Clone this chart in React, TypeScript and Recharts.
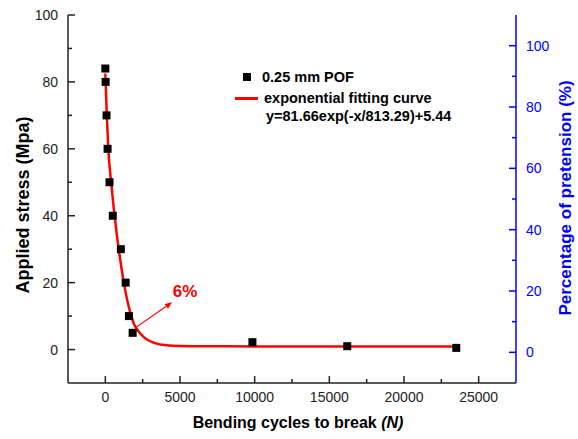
import {
  ComposedChart,
  Scatter,
  Line,
  XAxis,
  YAxis,
  ReferenceLine,
  Legend,
} from "recharts"

const FONT = '"Liberation Sans", Arial, sans-serif'

// measured samples (0.25 mm POF)
const cycles = [0, 20, 80, 150, 280, 500, 1040, 1360, 1580, 1830, 9850, 16200, 23500]
const stress = [84, 80, 70, 60, 50, 40, 30, 20, 10, 5, 2.2, 1, 0.5]

// fitted curve
const fitX = [0, 100, 200, 400, 630, 910, 1250, 1630, 1910, 2360, 3130, 4250, 5800, 8000, 12000, 16000, 20000, 23500]
const fitY = [82.5, 70, 60, 49.6, 39.6, 29.6, 19.7, 11.7, 7.7, 4.7, 2.2, 1.2, 1.0, 0.95, 0.9, 0.9, 0.9, 0.9]

const xTicks = [0, 2500, 5000, 7500, 10000, 12500, 15000, 17500, 20000, 22500, 25000]
const leftTicks = [0, 10, 20, 30, 40, 50, 60, 70, 80, 90, 100]
const rightTicks = [0, 10, 20, 30, 40, 50, 60, 70, 80, 90, 100]

const arrowFrom = { x: 2070, y: 6.7 }
const arrowTo = { x: 4470, y: 14.1 }

const points = cycles.map((x, i) => ({ x, y: stress[i] }))
const curve = fitX.map((x, i) => ({ x, y: fitY[i] }))

const BottomTick = (props: any) => {
  const { x, y, payload } = props
  const major = payload.value % 5000 === 0
  return (
    <g>
      <line x1={x} x2={x} y1={y} y2={y - (major ? 7 : 4)} stroke="#222" strokeWidth={1.5} />
      {major && (
        <text x={x} y={y + 19} textAnchor="middle" fontSize={14} fontFamily={FONT} fill="#222">
          {payload.value}
        </text>
      )}
    </g>
  )
}

const TopTick = (props: any) => {
  const { x, y, payload } = props
  const major = payload.value % 5000 === 0
  return <line x1={x} x2={x} y1={y} y2={y + (major ? 5 : 3)} stroke="#222" strokeWidth={1.2} />
}

const LeftTick = (props: any) => {
  const { x, y, payload } = props
  const major = payload.value % 20 === 0
  return (
    <g>
      <line x1={x} x2={x + (major ? 7 : 4)} y1={y} y2={y} stroke="#222" strokeWidth={1.5} />
      {major && (
        <text x={x - 10} y={y + 5} textAnchor="end" fontSize={14} fontFamily={FONT} fill="#222">
          {payload.value}
        </text>
      )}
    </g>
  )
}

const RightTick = (props: any) => {
  const { x, y, payload } = props
  const major = payload.value % 20 === 0
  return (
    <g>
      <line x1={x} x2={x - (major ? 7 : 4)} y1={y} y2={y} stroke="#0000ff" strokeWidth={1.5} />
      {major && (
        <text x={x + 10} y={y + 5} textAnchor="start" fontSize={14} fontFamily={FONT} fill="#0000ff">
          {payload.value}
        </text>
      )}
    </g>
  )
}

const Arrow = (p: any) => {
  const { x1, y1, x2, y2 } = p
  const ang = Math.atan2(y2 - y1, x2 - x1)
  const len = 7
  const w = 3
  const bx = x2 - len * Math.cos(ang)
  const by = y2 - len * Math.sin(ang)
  const px = -Math.sin(ang) * w
  const py = Math.cos(ang) * w
  return (
    <g>
      <line x1={x1} y1={y1} x2={bx} y2={by} stroke="#ff0000" strokeWidth={1.2} />
      <polygon points={`${x2},${y2} ${bx + px},${by + py} ${bx - px},${by - py}`} fill="#ff0000" />
      <text x={x2 + 13} y={y2 - 5} textAnchor="middle" fontSize={17} fontWeight="bold" fontFamily={FONT} fill="#ff0000">
        6%
      </text>
    </g>
  )
}

const LegendBox = () => (
  <div style={{ position: "relative", fontFamily: FONT, fontWeight: "bold", fontSize: 14.5, color: "#000" }}>
    <div style={{ position: "absolute", left: 243, top: 73, width: 8, height: 8, background: "#000" }} />
    <div style={{ position: "absolute", left: 262, top: 68, lineHeight: "18px", whiteSpace: "nowrap" }}>0.25 mm POF</div>
    <div style={{ position: "absolute", left: 235, top: 97, width: 23, height: 3, background: "#ff0000" }} />
    <div style={{ position: "absolute", left: 264, top: 89, lineHeight: "18px", whiteSpace: "nowrap" }}>exponential fitting curve</div>
    <div style={{ position: "absolute", left: 266, top: 107, lineHeight: "18px", whiteSpace: "nowrap" }}>y=81.66exp(-x/813.29)+5.44</div>
  </div>
)

export default function App() {
  return (
    <div style={{ position: "absolute", left: 0, top: 0, width: 578, height: 439, background: "#fff" }}>
      <ComposedChart width={578} height={439} margin={{ top: 15, right: 0, bottom: 0, left: 0 }}>
        <XAxis
          xAxisId="b"
          dataKey="x"
          type="number"
          domain={[-2500, 27500]}
          ticks={xTicks}
          interval={0}
          height={56}
          tickSize={0}
          tickMargin={0}
          tickLine={false}
          tick={BottomTick}
          axisLine={{ stroke: "#222", strokeWidth: 1.5 }}
          allowDataOverflow
          label={{
            content: () => (
              <text x={298} y={428} textAnchor="middle" fontSize={16} fontWeight="bold" fontFamily={FONT} fill="#000">
                Bending cycles to break <tspan fontStyle="italic">(N)</tspan>
              </text>
            ),
          }}
        />
        <XAxis
          xAxisId="t"
          orientation="top"
          dataKey="x"
          type="number"
          domain={[-2500, 27500]}
          ticks={xTicks}
          interval={0}
          height={0}
          tickSize={0}
          tickMargin={0}
          tickLine={false}
          tick={TopTick}
          axisLine={{ stroke: "#222", strokeWidth: 1.5 }}
          allowDataOverflow
        />
        <YAxis
          yAxisId="l"
          type="number"
          domain={[-10, 100]}
          ticks={leftTicks}
          interval={0}
          width={68}
          tickSize={0}
          tickMargin={0}
          tickLine={false}
          tick={LeftTick}
          axisLine={{ stroke: "#222", strokeWidth: 1.5 }}
          allowDataOverflow
          label={{
            content: () => (
              <text
                transform="translate(29, 205) rotate(-90)"
                textAnchor="middle"
                fontSize={18}
                fontWeight="bold"
                fontFamily={FONT}
                fill="#000"
              >
                Applied stress (Mpa)
              </text>
            ),
          }}
        />
        <YAxis
          yAxisId="r"
          orientation="right"
          type="number"
          domain={[-10, 110]}
          ticks={rightTicks}
          interval={0}
          width={62}
          tickSize={0}
          tickMargin={0}
          tickLine={false}
          tick={RightTick}
          axisLine={{ stroke: "#0000ff", strokeWidth: 1.5 }}
          allowDataOverflow
          label={{
            content: () => (
              <text
                transform="translate(571, 198) rotate(-90)"
                textAnchor="middle"
                fontSize={17}
                fontWeight="bold"
                fontFamily={FONT}
                fill="#0000ff"
              >
                Percentage of pretension (%)
              </text>
            ),
          }}
        />
        <Line
          data={curve}
          xAxisId="b"
          yAxisId="l"
          dataKey="y"
          type="monotone"
          stroke="#ff0000"
          strokeWidth={2.5}
          dot={false}
          activeDot={false}
          isAnimationActive={false}
        />
        <Scatter
          data={points}
          xAxisId="b"
          yAxisId="l"
          dataKey="y"
          isAnimationActive={false}
          shape={(p: any) => <rect x={p.cx - 4} y={p.cy - 4} width={8} height={8} fill="#000" />}
        />
        <ReferenceLine
          xAxisId="b"
          yAxisId="l"
          segment={[arrowFrom, arrowTo]}
          shape={Arrow}
          ifOverflow="visible"
        />
        <Legend
          content={LegendBox}
          verticalAlign="middle"
          wrapperStyle={{ position: "absolute", left: 0, top: 0, width: 0, height: 0 }}
        />
      </ComposedChart>
    </div>
  )
}
